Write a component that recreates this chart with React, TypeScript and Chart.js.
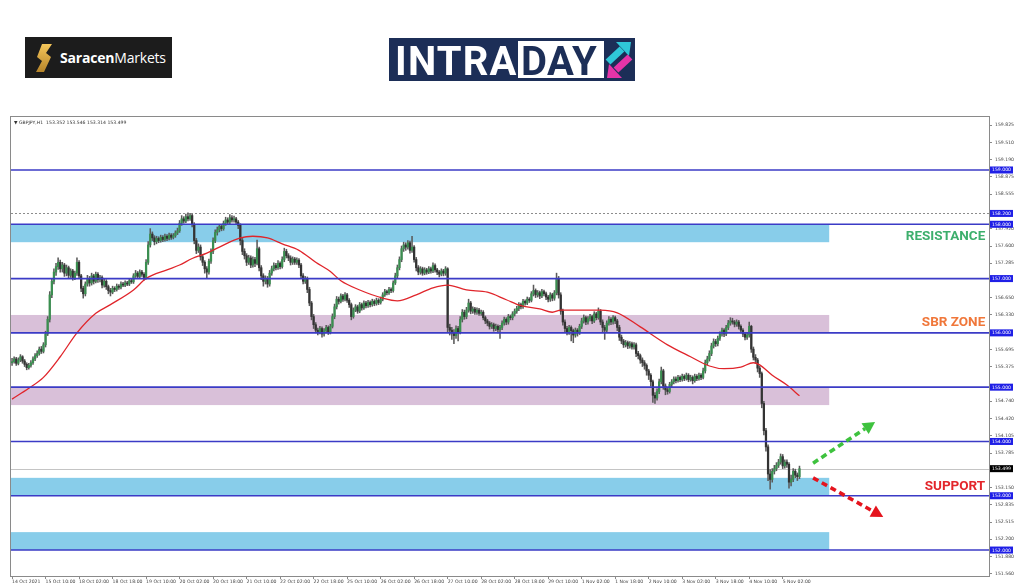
import React, { useEffect, useRef } from "react";
import { Chart, registerables } from "chart.js";

Chart.register(...registerables);

// ---------- DATA ----------
const symbolName = "GBPJPY,H1";
const firstOpen = 155.45;

const closes = [
  155.47,155.52,155.44,155.50,155.56,155.48,155.42,155.36,155.40,155.45,155.52,155.58,155.62,155.70,155.66,155.78,
  155.98,156.25,156.70,156.95,157.12,157.22,157.30,157.18,157.25,157.10,157.20,157.06,157.14,157.02,157.10,157.30,
  157.05,156.82,156.72,156.90,157.00,156.92,157.05,156.95,157.08,156.98,157.02,156.88,156.95,156.85,156.78,156.75,
  156.82,156.80,156.86,156.84,156.90,156.88,156.92,156.90,156.96,156.94,157.05,157.10,157.04,157.12,157.08,157.02,
  157.30,157.62,157.82,157.75,157.68,157.74,157.70,157.76,157.72,157.78,157.74,157.80,157.76,157.79,157.84,157.88,
  158.02,158.10,158.06,158.14,158.10,158.16,158.00,157.70,157.52,157.58,157.40,157.30,157.18,157.12,157.32,157.50,
  157.70,157.85,157.90,157.96,157.92,158.02,158.08,158.04,158.12,158.08,158.10,158.04,157.98,157.70,157.50,157.42,
  157.30,157.38,157.25,157.35,157.28,157.55,157.20,157.05,156.95,157.00,156.90,157.10,157.18,157.24,157.20,157.28,
  157.22,157.35,157.50,157.42,157.38,157.30,157.36,157.30,157.34,157.25,157.05,156.95,157.00,156.80,156.55,156.30,
  156.15,156.05,156.02,156.08,155.98,156.04,156.10,156.02,156.12,156.30,156.48,156.62,156.58,156.68,156.62,156.70,
  156.60,156.52,156.30,156.42,156.48,156.40,156.52,156.46,156.55,156.50,156.56,156.52,156.58,156.54,156.60,156.56,
  156.62,156.70,156.76,156.74,156.80,156.78,156.92,157.05,157.20,157.35,157.55,157.62,157.58,157.66,157.52,157.58,
  157.35,157.20,157.12,157.18,157.10,157.16,157.12,157.18,157.14,157.24,157.16,157.12,157.08,157.14,157.10,157.18,
  156.10,156.05,156.00,155.95,156.08,156.02,156.25,156.38,156.30,156.42,156.55,156.40,156.44,156.38,156.42,156.36,
  156.38,156.28,156.22,156.18,156.12,156.15,156.08,156.12,156.06,156.10,156.18,156.25,156.20,156.30,156.28,156.35,
  156.40,156.45,156.52,156.48,156.58,156.55,156.62,156.60,156.72,156.78,156.70,156.74,156.68,156.76,156.72,156.66,
  156.62,156.70,156.64,156.74,157.00,156.70,156.40,156.20,156.08,156.02,156.10,156.04,155.96,156.05,156.00,156.12,
  156.22,156.28,156.20,156.26,156.30,156.22,156.35,156.28,156.40,156.20,156.10,156.05,156.18,156.25,156.20,156.28,
  156.22,156.10,155.92,155.85,155.78,155.82,155.76,155.80,155.74,155.78,155.62,155.58,155.50,155.45,155.40,155.30,
  155.22,155.10,154.85,154.80,154.92,155.10,155.30,155.02,154.95,154.92,155.05,155.10,155.15,155.12,155.18,155.14,
  155.20,155.16,155.22,155.14,155.18,155.12,155.20,155.16,155.22,155.18,155.30,155.45,155.52,155.62,155.76,155.84,
  155.80,155.90,155.98,156.05,155.98,156.10,156.18,156.22,156.20,156.16,156.20,156.12,156.05,155.98,155.92,155.96,
  156.12,155.70,155.55,155.50,155.35,155.25,154.70,154.20,153.90,153.40,153.30,153.45,153.50,153.56,153.62,153.72,
  153.55,153.62,153.58,153.25,153.30,153.45,153.38,153.352,153.499,
];

const highs = [
  155.53,155.56,155.55,155.54,155.60,155.58,155.51,155.45,155.44,155.49,155.56,155.62,155.67,155.74,155.75,155.82,
  156.03,156.30,156.76,157.00,157.18,157.28,157.38,157.34,157.30,157.28,157.25,157.23,157.18,157.17,157.14,157.38,
  157.33,157.08,156.86,156.94,157.06,157.04,157.10,157.08,157.12,157.11,157.06,157.05,156.99,156.98,156.88,156.82,
  156.86,156.85,156.90,156.89,156.94,156.93,156.96,156.95,157.00,156.99,157.09,157.15,157.13,157.16,157.15,157.11,
  157.35,157.68,157.92,157.86,157.79,157.78,157.77,157.80,157.79,157.82,157.81,157.84,157.83,157.83,157.88,157.93,
  158.07,158.16,158.14,158.19,158.21,158.20,158.19,158.03,157.74,157.64,157.62,157.44,157.33,157.22,157.36,157.55,
  157.75,157.90,157.95,158.00,158.00,158.06,158.13,158.12,158.18,158.16,158.15,158.13,158.07,158.01,157.74,157.55,
  157.46,157.43,157.42,157.40,157.39,157.71,157.58,157.24,157.09,157.05,157.04,157.15,157.23,157.29,157.28,157.33,
  157.31,157.40,157.56,157.54,157.46,157.42,157.40,157.39,157.38,157.37,157.28,157.09,157.04,157.03,156.84,156.58,
  156.34,156.19,156.09,156.12,156.11,156.08,156.14,156.13,156.16,156.35,156.53,156.67,156.66,156.72,156.71,156.74,
  156.73,156.63,156.55,156.46,156.52,156.51,156.56,156.55,156.59,156.58,156.60,156.59,156.62,156.61,156.64,156.63,
  156.66,156.74,156.80,156.79,156.84,156.83,156.96,157.10,157.25,157.40,157.60,157.67,157.66,157.70,157.69,157.78,
  157.61,157.39,157.24,157.22,157.21,157.20,157.19,157.22,157.21,157.29,157.27,157.19,157.15,157.18,157.17,157.22,
  157.20,156.16,156.10,156.06,156.13,156.12,156.30,156.43,156.42,156.47,156.62,156.58,156.48,156.47,156.46,156.45,
  156.42,156.41,156.31,156.25,156.21,156.19,156.18,156.16,156.15,156.14,156.22,156.29,156.28,156.34,156.33,156.39,
  156.44,156.49,156.56,156.55,156.62,156.61,156.66,156.65,156.76,156.88,156.81,156.78,156.77,156.80,156.79,156.75,
  156.69,156.74,156.73,156.78,157.10,157.04,156.74,156.44,156.24,156.12,156.14,156.13,156.07,156.09,156.08,156.16,
  156.27,156.33,156.31,156.30,156.34,156.33,156.39,156.38,156.46,156.43,156.24,156.14,156.22,156.30,156.28,156.32,
  156.31,156.25,156.14,155.96,155.88,155.86,155.85,155.84,155.83,155.82,155.81,155.66,155.61,155.54,155.49,155.43,
  155.33,155.25,155.13,154.90,154.97,155.15,155.37,155.33,155.06,154.99,155.09,155.14,155.19,155.19,155.22,155.21,
  155.24,155.23,155.26,155.25,155.22,155.21,155.24,155.23,155.26,155.25,155.35,155.50,155.57,155.67,155.81,155.89,
  155.88,155.94,156.02,156.09,156.08,156.14,156.23,156.28,156.27,156.23,156.24,156.23,156.15,156.08,156.01,156.00,
  156.20,156.14,155.74,155.60,155.53,155.39,155.28,154.74,154.24,153.94,153.48,153.50,153.56,153.61,153.67,153.77,
  153.76,153.66,153.66,153.61,153.38,153.50,153.49,153.42,153.546,
];

const lows = [
  155.40,155.44,155.40,155.41,155.47,155.44,155.38,155.32,155.33,155.37,155.42,155.49,155.55,155.59,155.62,155.63,
  155.74,155.95,156.20,156.65,156.90,157.06,157.17,157.12,157.12,157.04,157.05,157.00,157.02,156.97,156.98,157.06,
  157.00,156.76,156.64,156.68,156.86,156.86,156.88,156.90,156.92,156.93,156.94,156.83,156.84,156.80,156.72,156.68,
  156.72,156.76,156.77,156.80,156.81,156.85,156.85,156.87,156.87,156.91,156.91,157.02,157.00,157.01,157.04,156.97,
  156.99,157.26,157.58,157.70,157.62,157.64,157.66,157.67,157.68,157.69,157.70,157.71,157.72,157.73,157.76,157.81,
  157.85,157.98,158.02,158.03,158.06,158.07,157.95,157.64,157.46,157.48,157.34,157.24,157.10,157.00,157.08,157.28,
  157.46,157.66,157.80,157.86,157.88,157.89,157.98,158.00,158.01,158.04,158.04,158.00,157.92,157.62,157.44,157.36,
  157.24,157.26,157.20,157.21,157.22,157.25,157.14,156.98,156.86,156.90,156.84,156.86,157.06,157.14,157.16,157.17,
  157.18,157.19,157.31,157.38,157.33,157.25,157.26,157.26,157.26,157.20,157.00,156.90,156.91,156.74,156.50,156.24,
  156.08,156.00,155.96,155.98,155.92,155.94,156.00,155.97,155.98,156.09,156.26,156.44,156.53,156.55,156.58,156.59,
  156.56,156.47,156.24,156.27,156.39,156.36,156.37,156.42,156.43,156.46,156.47,156.48,156.49,156.50,156.51,156.52,
  156.53,156.59,156.67,156.70,156.71,156.74,156.75,156.89,157.01,157.16,157.31,157.50,157.52,157.54,157.47,157.48,
  157.30,157.14,157.07,157.08,157.06,157.07,157.08,157.09,157.10,157.11,157.12,157.07,157.03,157.05,157.05,157.06,
  156.02,155.96,155.88,155.80,155.90,155.85,155.98,156.20,156.25,156.26,156.38,156.35,156.36,156.34,156.34,156.32,
  156.32,156.24,156.17,156.13,156.07,156.08,156.03,156.04,156.00,155.90,156.06,156.14,156.15,156.16,156.24,156.24,
  156.31,156.36,156.41,156.44,156.45,156.51,156.52,156.56,156.57,156.68,156.65,156.66,156.63,156.65,156.68,156.61,
  156.57,156.58,156.59,156.60,156.70,156.64,156.34,156.14,156.02,155.96,155.97,155.85,155.82,155.92,155.94,155.97,
  156.08,156.18,156.15,156.16,156.22,156.17,156.19,156.24,156.25,156.15,156.02,155.88,156.01,156.14,156.15,156.16,
  156.17,156.04,155.86,155.80,155.73,155.74,155.71,155.72,155.70,155.70,155.56,155.52,155.44,155.38,155.33,155.22,
  155.14,155.02,154.72,154.70,154.76,154.88,155.06,154.96,154.86,154.87,154.89,155.01,155.06,155.08,155.09,155.10,
  155.11,155.12,155.13,155.10,155.11,155.06,155.09,155.12,155.13,155.14,155.15,155.26,155.41,155.48,155.58,155.72,
  155.75,155.76,155.86,155.94,155.93,155.95,156.06,156.14,156.16,156.11,156.12,156.07,156.00,155.93,155.87,155.88,
  155.92,155.64,155.50,155.44,155.28,155.18,154.62,154.12,153.82,153.28,153.12,153.25,153.40,153.46,153.52,153.58,
  153.50,153.51,153.52,153.14,153.18,153.26,153.33,153.28,153.314,
];

// moving average line, read at sample bars
const maBars = [0, 8, 15, 23, 31, 40, 47, 58, 64, 74, 80, 86, 93, 99, 109, 115, 122, 129, 137, 145, 152, 157, 166, 177, 184, 193, 201, 208, 217, 227, 236, 243, 252, 258, 262, 271, 281, 289, 300, 313, 324, 333, 340, 348, 354, 357, 363, 370, 376];
const maValues = [154.78, 154.98, 155.18, 155.56, 156.00, 156.36, 156.52, 156.79, 157.00, 157.16, 157.25, 157.37, 157.47, 157.58, 157.75, 157.78, 157.75, 157.64, 157.52, 157.30, 157.13, 156.96, 156.79, 156.64, 156.59, 156.70, 156.83, 156.88, 156.79, 156.75, 156.61, 156.50, 156.44, 156.38, 156.42, 156.42, 156.42, 156.37, 156.11, 155.78, 155.56, 155.39, 155.34, 155.37, 155.45, 155.41, 155.22, 155.04, 154.84];

const xTickLabels = [
  "14 Oct 2021", "15 Oct 10:00", "18 Oct 02:00", "18 Oct 18:00", "19 Oct 10:00", "20 Oct 02:00",
  "20 Oct 18:00", "21 Oct 10:00", "22 Oct 02:00", "22 Oct 18:00", "25 Oct 10:00", "26 Oct 02:00",
  "26 Oct 18:00", "27 Oct 10:00", "28 Oct 02:00", "28 Oct 18:00", "29 Oct 10:00", "1 Nov 02:00",
  "1 Nov 18:00", "2 Nov 10:00", "3 Nov 02:00", "3 Nov 18:00", "4 Nov 10:00", "5 Nov 02:00",
];
const barsPerXTick = 16;

const yTickValues = [
  159.825, 159.51, 159.19, 158.875, 158.555, 157.92, 157.6, 157.285, 156.65, 156.33,
  155.695, 155.375, 154.74, 154.42, 154.105, 153.785, 153.15, 152.835, 152.515, 152.2, 151.88, 151.56,
];

const levelLines = [159, 158, 157, 156, 155, 154, 153, 152];
const markedPrices = [159, 158.2, 158, 157, 156, 155, 154, 153, 152];
const sessionHigh = 158.2;

const zoneTops = [158.0, 156.33, 155.0, 153.33, 152.33];
const zoneBottoms = [157.67, 156.0, 154.67, 153.0, 152.0];
const zoneEndBar = 390.2;

const noteTexts = ["RESISTANCE", "SBR ZONE", "SUPPORT"];
const notePrices = [157.78, 156.18, 153.16];
const noteRightBar = 464.7;

const arrowFromBars = [382.5, 382.5];
const arrowFromPrices = [153.6, 153.33];
const arrowToBars = [412.1, 416.0];
const arrowToPrices = [154.36, 152.61];

// ---------- STYLE ----------
const Y_MIN = 151.522;
const Y_MAX = 159.976;
const X_MIN = -0.5;
const X_MAX = 466.5;
const ZONE_COLORS = ["#88cdea", "#d9c0d9", "#d9c0d9", "#88cdea", "#88cdea"];
const NOTE_COLORS = ["#3daf6c", "#f0773a", "#e3262b"];
const ARROW_COLORS = ["#3ec23e", "#e5141d"];
const LEVEL_COLOR = "#3b3bc6";
const BOX_COLOR = "#1f1fe6";
const BULL = "#3a8f50";
const BEAR = "#333333";
const WICK = "#5a5a5a";
const SMALL_FONT = '4.6px "DejaVu Sans"';

const opens = closes.map((c, i) => (i === 0 ? firstOpen : closes[i - 1]));
const lastIdx = closes.length - 1;

function drawArrow(ctx: CanvasRenderingContext2D, x0: number, y0: number, x1: number, y1: number, color: string) {
  const ang = Math.atan2(y1 - y0, x1 - x0);
  const head = 12;
  const bx = x1 - head * Math.cos(ang);
  const by = y1 - head * Math.sin(ang);
  ctx.save();
  ctx.strokeStyle = color;
  ctx.lineWidth = 3.6;
  ctx.setLineDash([6, 4]);
  ctx.beginPath();
  ctx.moveTo(x0, y0);
  ctx.lineTo(bx, by);
  ctx.stroke();
  ctx.setLineDash([]);
  ctx.fillStyle = color;
  ctx.beginPath();
  ctx.moveTo(x1, y1);
  ctx.lineTo(bx + 6.5 * Math.sin(ang), by - 6.5 * Math.cos(ang));
  ctx.lineTo(bx - 6.5 * Math.sin(ang), by + 6.5 * Math.cos(ang));
  ctx.closePath();
  ctx.fill();
  ctx.restore();
}

const overlayPlugin = {
  id: "overlay",
  beforeDatasetsDraw(chart: any) {
    const { ctx, chartArea: a, scales } = chart;
    const x = scales.x, y = scales.y;
    ctx.save();
    ctx.beginPath();
    ctx.rect(a.left, a.top, a.right - a.left, a.bottom - a.top);
    ctx.clip();
    const x0 = a.left;
    const x1 = x.getPixelForValue(zoneEndBar);
    zoneTops.forEach((t, k) => {
      const y0 = y.getPixelForValue(t);
      const y1 = y.getPixelForValue(zoneBottoms[k]);
      ctx.fillStyle = ZONE_COLORS[k];
      ctx.fillRect(x0, y0, x1 - x0, y1 - y0);
    });
    // session high dotted line
    ctx.strokeStyle = "#8c8c8c";
    ctx.lineWidth = 1;
    ctx.setLineDash([2, 2]);
    const yh = Math.round(y.getPixelForValue(sessionHigh)) + 0.5;
    ctx.beginPath();
    ctx.moveTo(a.left, yh);
    ctx.lineTo(a.right, yh);
    ctx.stroke();
    // last price line
    ctx.setLineDash([]);
    ctx.strokeStyle = "#c4c4c4";
    const yl = Math.round(y.getPixelForValue(closes[lastIdx])) + 0.5;
    ctx.beginPath();
    ctx.moveTo(a.left, yl);
    ctx.lineTo(a.right, yl);
    ctx.stroke();
    ctx.restore();
  },
  afterDatasetsDraw(chart: any) {
    const { ctx, chartArea: a, scales } = chart;
    const y = scales.y;
    ctx.save();
    ctx.strokeStyle = LEVEL_COLOR;
    ctx.lineWidth = 1.6;
    levelLines.forEach((p) => {
      const yy = y.getPixelForValue(p);
      ctx.beginPath();
      ctx.moveTo(a.left, yy);
      ctx.lineTo(a.right, yy);
      ctx.stroke();
    });
    ctx.restore();
  },
  afterDraw(chart: any) {
    const { ctx, chartArea: a, scales } = chart;
    const x = scales.x, y = scales.y;
    ctx.save();
    // frame
    ctx.strokeStyle = "#8a8a8a";
    ctx.lineWidth = 1;
    ctx.strokeRect(a.left - 0.5, a.top - 0.5, a.right - a.left + 1, a.bottom - a.top + 1);
    // title
    ctx.fillStyle = "#333";
    ctx.font = SMALL_FONT;
    ctx.textBaseline = "middle";
    ctx.textAlign = "left";
    const fmt = (v: number) => v.toFixed(3);
    ctx.fillText(
      `\u25BC ${symbolName}  ${fmt(opens[lastIdx])} ${fmt(highs[lastIdx])} ${fmt(lows[lastIdx])} ${fmt(closes[lastIdx])}`,
      a.left + 3,
      a.top + 5.5
    );
    // boxed price labels
    const drawBox = (p: number, bg: string) => {
      const yy = y.getPixelForValue(p);
      ctx.fillStyle = bg;
      ctx.fillRect(a.right + 1, yy - 3.5, 23, 7);
      ctx.fillStyle = "#fff";
      ctx.font = SMALL_FONT;
      ctx.textAlign = "left";
      ctx.textBaseline = "middle";
      ctx.fillText(p.toFixed(3), a.right + 3, yy + 0.3);
    };
    markedPrices.forEach((p) => drawBox(p, BOX_COLOR));
    drawBox(closes[lastIdx], "#000");
    // notes
    ctx.font = 'bold 13.5px Roboto';
    ctx.textAlign = "right";
    ctx.textBaseline = "middle";
    noteTexts.forEach((t, k) => {
      ctx.fillStyle = NOTE_COLORS[k];
      ctx.fillText(t, x.getPixelForValue(noteRightBar), y.getPixelForValue(notePrices[k]));
    });
    // arrows
    arrowFromBars.forEach((b, k) => {
      drawArrow(
        ctx,
        x.getPixelForValue(b),
        y.getPixelForValue(arrowFromPrices[k]),
        x.getPixelForValue(arrowToBars[k]),
        y.getPixelForValue(arrowToPrices[k]),
        ARROW_COLORS[k]
      );
    });
    ctx.restore();
  },
};

function SaracenLogo() {
  return (
    <div
      style={{
        position: "absolute", left: 25, top: 37, width: 147, height: 41,
        background: "#1c1c1c", display: "flex", alignItems: "center",
      }}
    >
      <svg width="18" height="28" viewBox="0 0 18 28" style={{ marginLeft: 10 }}>
        <defs>
          <linearGradient id="sg" x1="0" y1="0" x2="0" y2="1">
            <stop offset="0" stopColor="#f5c65a" />
            <stop offset="1" stopColor="#b5842a" />
          </linearGradient>
        </defs>
        <polygon points="7,0 17,0 11,9 16,13 9,28 1,28 7,17 2,13" fill="url(#sg)" />
      </svg>
      <span style={{ fontFamily: '"Open Sans"', fontSize: 14, color: "#fff", marginLeft: 7, letterSpacing: -0.2 }}>
        <b>Saracen</b>Markets
      </span>
    </div>
  );
}

function IntradayLogo() {
  const font = 'bold 40px Roboto';
  return (
    <div style={{ position: "absolute", left: 389, top: 38, width: 246, height: 43, background: "#1c2e57" }}>
      <div style={{ position: "absolute", left: 6, top: 0, height: 43, lineHeight: "43px", font, letterSpacing: 1.2, color: "#fff" }}>INTRA</div>
      <div style={{ position: "absolute", left: 129, top: 3, width: 86, height: 37, background: "#fff" }}>
        <div style={{ position: "absolute", left: 3, top: -3, height: 43, lineHeight: "43px", font, letterSpacing: 0.5, color: "#1c2e57" }}>DAY</div>
      </div>
      <svg width="30" height="40" viewBox="0 0 30 40" style={{ position: "absolute", left: 215, top: 2 }}>
        <line x1="4" y1="22" x2="18" y2="9" stroke="#2fc7d8" strokeWidth="7" />
        <polygon points="12,2 27,2 25,16" fill="#2fc7d8" />
        <line x1="26" y1="17" x2="12" y2="30" stroke="#e634a8" strokeWidth="7" />
        <polygon points="18,38 3,38 5,24" fill="#e634a8" />
      </svg>
    </div>
  );
}

export default function App() {
  const canvasRef = useRef<HTMLCanvasElement | null>(null);

  useEffect(() => {
    document.body.style.margin = "0";
    const canvas = canvasRef.current;
    if (!canvas) return;
    Chart.defaults.font.family = '"DejaVu Sans"';

    const bodyData = closes.map((c, i) => ({ x: i, y: [opens[i], c] }));
    const wickData = closes.map((_, i) => ({ x: i, y: [lows[i], highs[i]] }));
    const bodyColors = closes.map((c, i) => (c >= opens[i] ? BULL : BEAR));
    const maData = maBars.map((b, i) => ({ x: b, y: maValues[i] }));

    const chart = new Chart(canvas, {
      type: "bar",
      data: {
        datasets: [
          {
            type: "line",
            data: maData,
            borderColor: "#e0252b",
            borderWidth: 1.3,
            pointRadius: 0,
            cubicInterpolationMode: "monotone",
            order: 0,
          } as any,
          {
            data: bodyData,
            backgroundColor: bodyColors,
            barThickness: 1.6,
            grouped: false,
            minBarLength: 1,
            order: 1,
          } as any,
          {
            data: wickData,
            backgroundColor: WICK,
            barThickness: 0.9,
            grouped: false,
            order: 2,
          } as any,
        ],
      },
      options: {
        animation: false,
        responsive: true,
        maintainAspectRatio: false,
        layout: { padding: { left: 11, top: 117, right: 0, bottom: 0 } },
        plugins: { legend: { display: false }, tooltip: { enabled: false } },
        scales: {
          x: {
            type: "linear",
            min: X_MIN,
            max: X_MAX,
            offset: false,
            bounds: "data",
            grid: { display: true, drawOnChartArea: false, drawTicks: true, tickLength: 3, color: "#8a8a8a", offset: false },
            border: { display: false },
            afterBuildTicks: (scale: any) => {
              scale.ticks = xTickLabels.map((_, k) => ({ value: k * barsPerXTick }));
            },
            afterFit: (scale: any) => {
              scale.height = 11;
            },
            ticks: {
              autoSkip: false,
              maxRotation: 0,
              minRotation: 0,
              align: "start",
              padding: 0,
              color: "#444",
              font: { size: 4.6, family: '"DejaVu Sans"' },
              callback: (_v: any, index: number) => xTickLabels[index] ?? "",
            },
          },
          y: {
            type: "linear",
            position: "right",
            min: Y_MIN,
            max: Y_MAX,
            bounds: "data",
            grid: { display: true, drawOnChartArea: false, drawTicks: true, tickLength: 3, color: "#8a8a8a" },
            border: { display: false },
            afterBuildTicks: (scale: any) => {
              scale.ticks = yTickValues.map((v) => ({ value: v }));
            },
            afterFit: (scale: any) => {
              scale.width = 35;
            },
            ticks: {
              autoSkip: false,
              padding: 3,
              color: "#444",
              font: { size: 4.6, family: '"DejaVu Sans"' },
              callback: (v: any) => Number(v).toFixed(3),
            },
          },
        },
      } as any,
      plugins: [overlayPlugin],
    });

    return () => chart.destroy();
  }, []);

  return (
    <div style={{ position: "relative", width: 1024, height: 587, background: "#fff", overflow: "hidden" }}>
      <canvas ref={canvasRef} style={{ position: "absolute", left: 0, top: 0 }} />
      <SaracenLogo />
      <IntradayLogo />
    </div>
  );
}
